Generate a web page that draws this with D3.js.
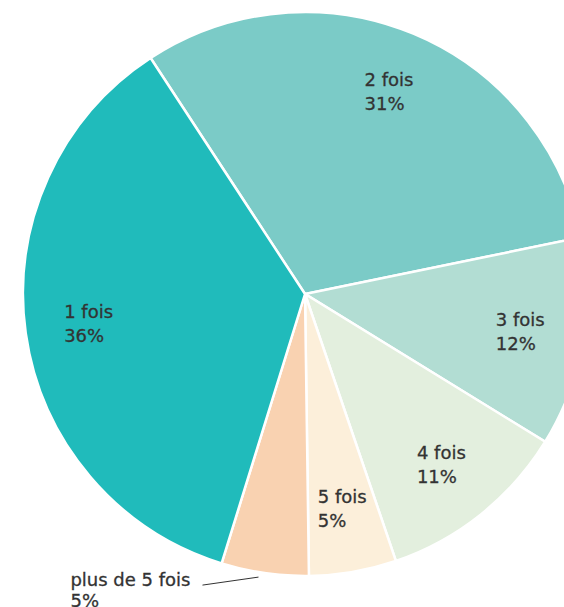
<html>
<head>
    <title>Pie</title>
    <script src='https://d3js.org/d3.v7.min.js'></script>
    <style>
        body { margin: 0; background: #fff; }
        text { font-family: "DejaVu Sans", sans-serif; font-size: 18px; fill: #333; stroke: #333; stroke-width: 0.3; }
    </style>
</head>
<body>
    <svg id="pie"></svg>
    <script>
        var categories = ["2 fois", "3 fois", "4 fois", "5 fois", "plus de 5 fois", "1 fois"];
        var values = [31, 12, 11, 5, 5, 36];
        var labels = ["31%", "12%", "11%", "5%", "5%", "36%"];
        var colors = ["#7bcbc7", "#b2ddd3", "#e3efde", "#fcefda", "#f9d2b1", "#20bbbb"];

        var width = 564, height = 607, radius = 282;
        var cx = 305, cy = 294;

        var svg = d3.select("#pie").attr("width", width).attr("height", height);
        var g = svg.append("g").attr("transform", "translate(" + cx + "," + cy + ")");

        var pie = d3.pie().sort(null)
            .startAngle(-33.2 * Math.PI / 180)
            .endAngle((360 - 33.2) * Math.PI / 180);
        var arcs = pie(values);
        var arc = d3.arc().innerRadius(0).outerRadius(radius);
        var labelArc = d3.arc().innerRadius(radius * 0.775).outerRadius(radius * 0.775);

        g.selectAll("path")
            .data(arcs)
            .enter()
            .append("path")
            .attr("d", arc)
            .attr("fill", function (d, i) { return colors[i]; })
            .attr("stroke", "#fff")
            .attr("stroke-width", 2.5);

        arcs.forEach(function (d, i) {
            if (categories[i] == "plus de 5 fois") {
                // outside label with leader line
                var mid = (d.startAngle + d.endAngle) / 2;
                var x0 = Math.sin(mid) * (radius + 2) - 6, y0 = -Math.cos(mid) * (radius + 2) + 2;
                var x1 = x0 - 56, y1 = y0 + 8;
                g.append("line")
                    .attr("x1", x0).attr("y1", y0).attr("x2", x1).attr("y2", y1)
                    .attr("stroke", "#333").attr("stroke-width", 1);
                var t = g.append("text");
                var a = t.append("tspan").attr("y", y1 + 1).text(categories[i]);
                var w = a.node().getComputedTextLength();
                a.attr("x", x1 - 12 - w);
                t.append("tspan").attr("x", x1 - 12 - w).attr("y", y1 + 22).text(labels[i]);
                return;
            }
            var c = labelArc.centroid(d);
            var t = g.append("text");
            var a = t.append("tspan").attr("y", c[1] - 6).text(categories[i]);
            var b = t.append("tspan").attr("y", c[1] + 18).text(labels[i]);
            var w = Math.max(a.node().getComputedTextLength(), b.node().getComputedTextLength());
            a.attr("x", c[0] - w / 2);
            b.attr("x", c[0] - w / 2);
        });
    </script>
</body>
</html>
